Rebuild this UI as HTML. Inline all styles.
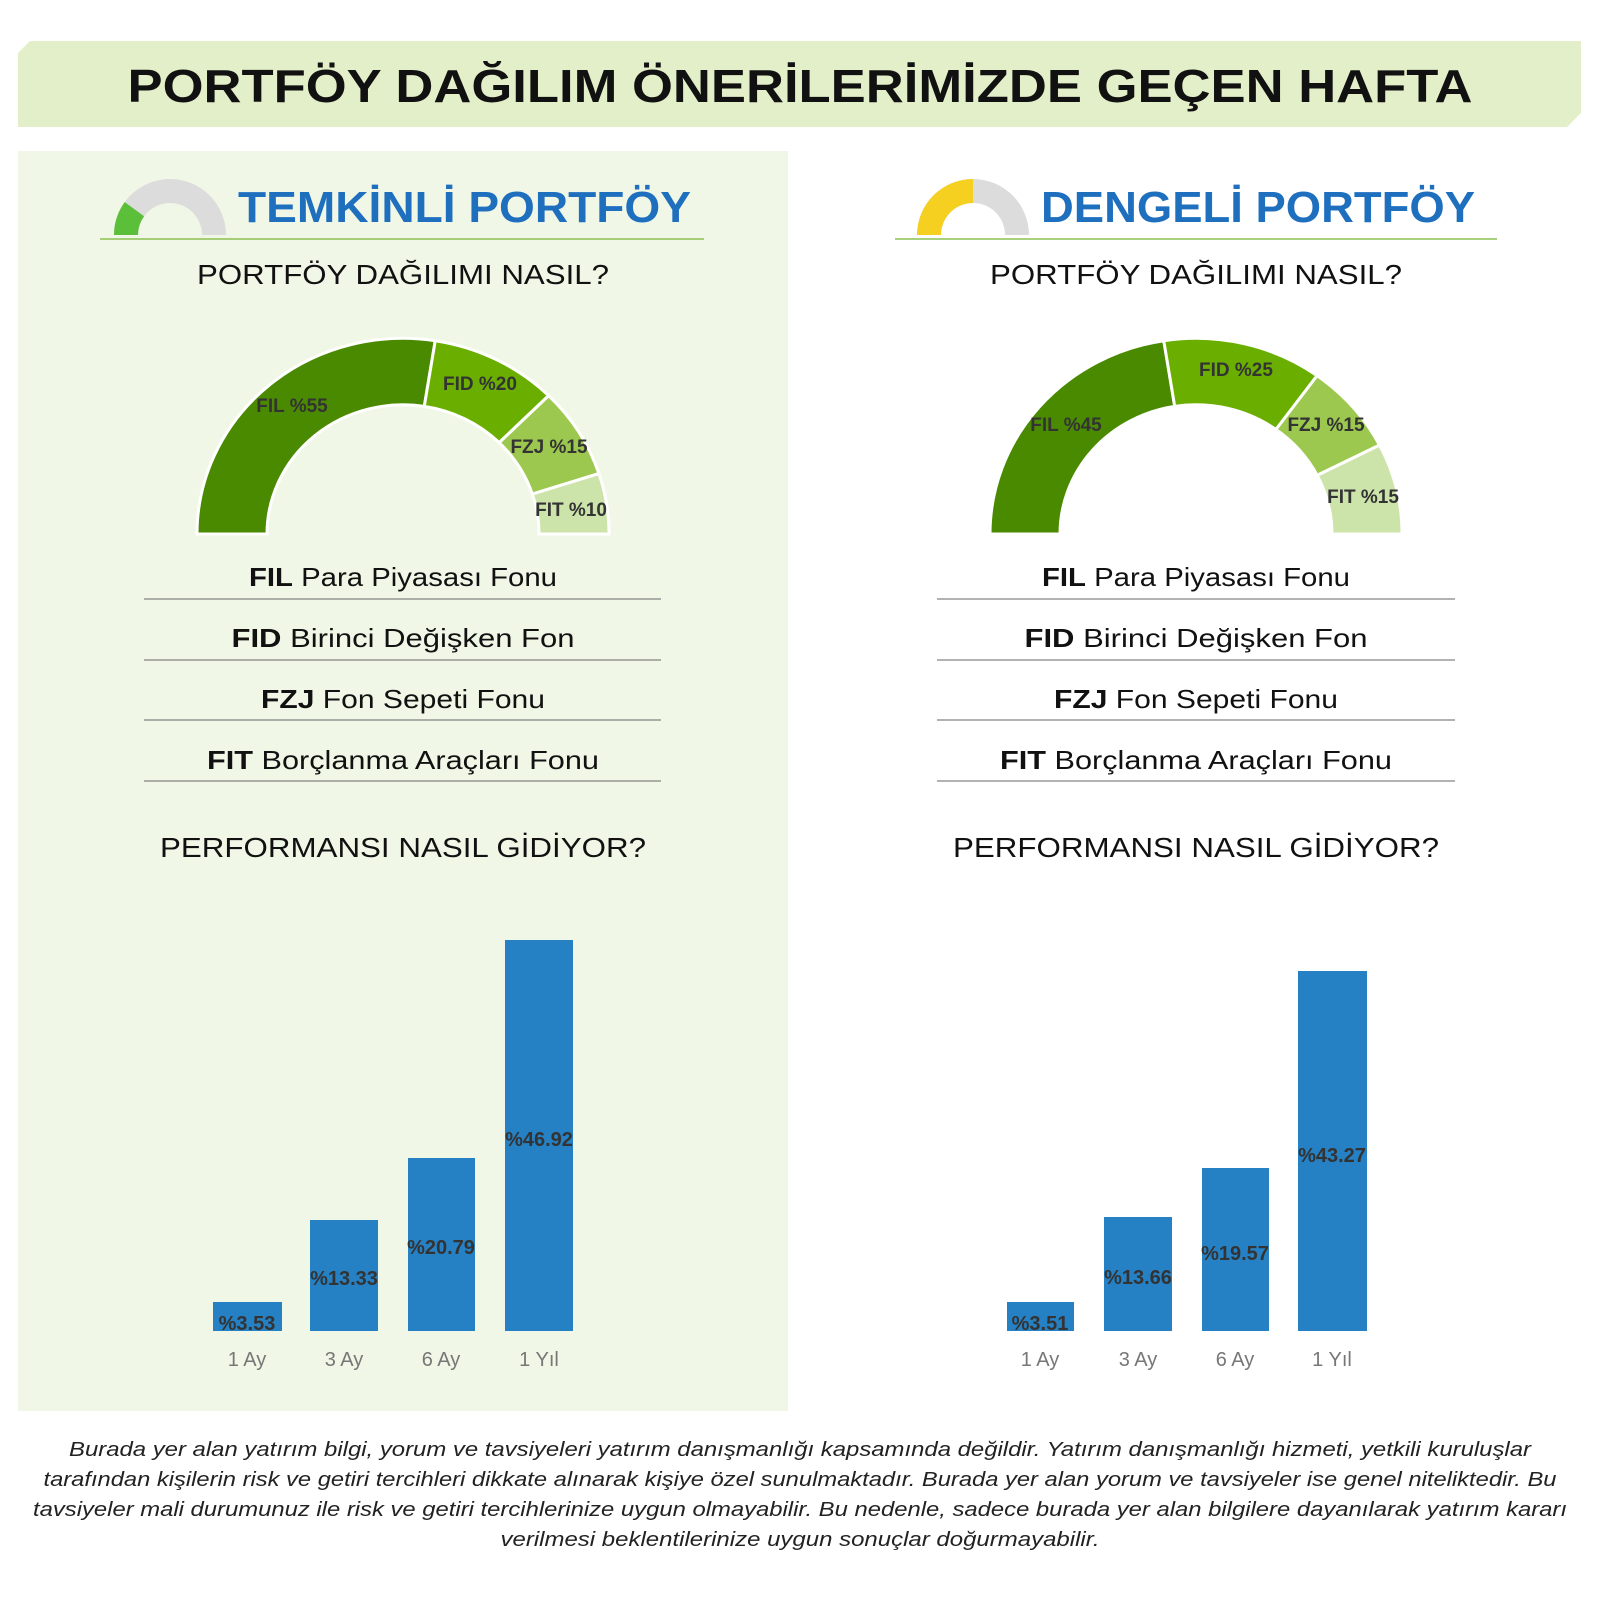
<!DOCTYPE html>
<html><head><meta charset="utf-8"><style>
html,body{margin:0;padding:0;background:#fff;}
svg{display:block;}
text{font-family:"Liberation Sans","DejaVu Sans",sans-serif;}
</style></head><body>
<svg id="s" width="1600" height="1600" viewBox="0 0 1600 1600" xmlns="http://www.w3.org/2000/svg">
<rect width="1600" height="1600" fill="#fff"/>
<polygon points="30,41 1581,41 1581,113 1567,127 18,127 18,53" fill="#e3efc8"/>
<text x="800" y="102" text-anchor="middle" font-size="46" font-weight="bold" fill="#111" textLength="1345" lengthAdjust="spacingAndGlyphs">PORTFÖY DAĞILIM ÖNERİLERİMİZDE GEÇEN HAFTA</text>
<rect x="18" y="151" width="770" height="1260" fill="#f0f7e6"/>
<g id="g"></g>
<text x="238" y="222" font-size="44" font-weight="bold" fill="#1f6fbf" textLength="453" lengthAdjust="spacingAndGlyphs">TEMKİNLİ PORTFÖY</text>
<text x="1041" y="222" font-size="44" font-weight="bold" fill="#1f6fbf" textLength="434" lengthAdjust="spacingAndGlyphs">DENGELİ PORTFÖY</text>
<line x1="100" y1="239" x2="704" y2="239" stroke="#8cc152" stroke-width="1.5"/>
<line x1="895" y1="239" x2="1497" y2="239" stroke="#8cc152" stroke-width="1.5"/>
<g font-size="28" fill="#111" text-anchor="middle" lengthAdjust="spacingAndGlyphs">
<text x="403" y="284" textLength="412" lengthAdjust="spacingAndGlyphs">PORTFÖY DAĞILIMI NASIL?</text>
<text x="1196" y="284" textLength="412" lengthAdjust="spacingAndGlyphs">PORTFÖY DAĞILIMI NASIL?</text>
<text x="403" y="857" textLength="486" lengthAdjust="spacingAndGlyphs">PERFORMANSI NASIL GİDİYOR?</text>
<text x="1196" y="857" textLength="486" lengthAdjust="spacingAndGlyphs">PERFORMANSI NASIL GİDİYOR?</text>
</g>
<g font-size="26" fill="#111" text-anchor="middle">
<text x="403" y="586" textLength="308" lengthAdjust="spacingAndGlyphs"><tspan font-weight="bold">FIL</tspan>  Para Piyasası Fonu</text>
<text x="403" y="647" textLength="343" lengthAdjust="spacingAndGlyphs"><tspan font-weight="bold">FID</tspan>  Birinci Değişken Fon</text>
<text x="403" y="708" textLength="284" lengthAdjust="spacingAndGlyphs"><tspan font-weight="bold">FZJ</tspan>  Fon Sepeti Fonu</text>
<text x="403" y="769" textLength="392" lengthAdjust="spacingAndGlyphs"><tspan font-weight="bold">FIT</tspan>  Borçlanma Araçları Fonu</text>
<text x="1196" y="586" textLength="308" lengthAdjust="spacingAndGlyphs"><tspan font-weight="bold">FIL</tspan>  Para Piyasası Fonu</text>
<text x="1196" y="647" textLength="343" lengthAdjust="spacingAndGlyphs"><tspan font-weight="bold">FID</tspan>  Birinci Değişken Fon</text>
<text x="1196" y="708" textLength="284" lengthAdjust="spacingAndGlyphs"><tspan font-weight="bold">FZJ</tspan>  Fon Sepeti Fonu</text>
<text x="1196" y="769" textLength="392" lengthAdjust="spacingAndGlyphs"><tspan font-weight="bold">FIT</tspan>  Borçlanma Araçları Fonu</text>
</g>
<g stroke="#666" stroke-width="1">
<line x1="144" y1="599" x2="661" y2="599"/><line x1="144" y1="660" x2="661" y2="660"/>
<line x1="144" y1="720" x2="661" y2="720"/><line x1="144" y1="781" x2="661" y2="781"/>
<line x1="937" y1="599" x2="1455" y2="599"/><line x1="937" y1="660" x2="1455" y2="660"/>
<line x1="937" y1="720" x2="1455" y2="720"/><line x1="937" y1="781" x2="1455" y2="781"/>
</g>
<g fill="#2581c4">
<rect x="213" y="1302" width="69" height="29"/><rect x="310" y="1220" width="68" height="111"/>
<rect x="408" y="1158" width="67" height="173"/><rect x="505" y="940" width="68" height="391"/>
<rect x="1007" y="1302" width="67" height="29"/><rect x="1104" y="1217" width="68" height="114"/>
<rect x="1202" y="1168" width="67" height="163"/><rect x="1298" y="971" width="69" height="360"/>
</g>
<g font-size="20" font-weight="bold" fill="#333" text-anchor="middle">
<text x="247" y="1330">%3.53</text><text x="344" y="1285">%13.33</text>
<text x="441" y="1254">%20.79</text><text x="539" y="1146">%46.92</text>
<text x="1040" y="1330">%3.51</text><text x="1138" y="1284">%13.66</text>
<text x="1235" y="1260">%19.57</text><text x="1332" y="1162">%43.27</text>
</g>
<g font-size="20" fill="#777" text-anchor="middle">
<text x="247" y="1366">1 Ay</text><text x="344" y="1366">3 Ay</text><text x="441" y="1366">6 Ay</text><text x="539" y="1366">1 Yıl</text>
<text x="1040" y="1366">1 Ay</text><text x="1138" y="1366">3 Ay</text><text x="1235" y="1366">6 Ay</text><text x="1332" y="1366">1 Yıl</text>
</g>
<g font-size="20" font-style="italic" fill="#222" text-anchor="middle">
<text x="800" y="1456" textLength="1462" lengthAdjust="spacingAndGlyphs">Burada yer alan yatırım bilgi, yorum ve tavsiyeleri yatırım danışmanlığı kapsamında değildir. Yatırım danışmanlığı hizmeti, yetkili kuruluşlar</text>
<text x="800" y="1486" textLength="1513" lengthAdjust="spacingAndGlyphs">tarafından kişilerin risk ve getiri tercihleri dikkate alınarak kişiye özel sunulmaktadır. Burada yer alan yorum ve tavsiyeler ise genel niteliktedir. Bu</text>
<text x="800" y="1516" textLength="1534" lengthAdjust="spacingAndGlyphs">tavsiyeler mali durumunuz ile risk ve getiri tercihlerinize uygun olmayabilir. Bu nedenle, sadece burada yer alan bilgilere dayanılarak yatırım kararı</text>
<text x="800" y="1546" textLength="599" lengthAdjust="spacingAndGlyphs">verilmesi beklentilerinize uygun sonuçlar doğurmayabilir.</text>
</g>
<g id="lbl" font-size="19" font-weight="bold" fill="#333" text-anchor="middle">
<text x="292" y="412">FIL %55</text><text x="480" y="390">FID %20</text>
<text x="549" y="453">FZJ %15</text><text x="571" y="516">FIT %10</text>
<text x="1066" y="431">FIL %45</text><text x="1236" y="376">FID %25</text>
<text x="1326" y="431">FZJ %15</text><text x="1363" y="503">FIT %15</text>
</g>
</svg>
<script>
var g=document.getElementById('g'),NS='http://www.w3.org/2000/svg';
function arc(cx,cy,R,r,f0,f1,fill,stroke,k){
 k=k||1;
 var a0=Math.PI*(1-f0),a1=Math.PI*(1-f1);
 function p(rr,a){return (cx+rr*Math.cos(a)).toFixed(2)+','+(cy-k*rr*Math.sin(a)).toFixed(2);}
 var d='M'+p(R,a0)+' A'+R+','+(R*k)+' 0 0 1 '+p(R,a1)+' L'+p(r,a1)+' A'+r+','+(r*k)+' 0 0 0 '+p(r,a0)+' Z';
 var e=document.createElementNS(NS,'path');e.setAttribute('d',d);e.setAttribute('fill',fill);
 if(stroke){e.setAttribute('stroke',stroke);e.setAttribute('stroke-width','3');}
 g.appendChild(e);
}
var C=['#4a8a00','#6aaf00','#9dc84f','#cce3aa'];
function donut(cx,v){var f=0;for(var i=0;i<4;i++){arc(cx,534,206,136,f,f+v[i],C[i],'#fff',0.95);f+=v[i];}}
donut(403,[.55,.2,.15,.1]);donut(1196,[.45,.25,.15,.15]);
arc(170,235,56,32,0,1,'#dcdcdc');arc(170,235,56,32,0,.2,'#5cbf3a');
arc(973,235,56,32,0,1,'#dcdcdc');arc(973,235,56,32,0,.5,'#f5d020');
</script>
</body></html>
